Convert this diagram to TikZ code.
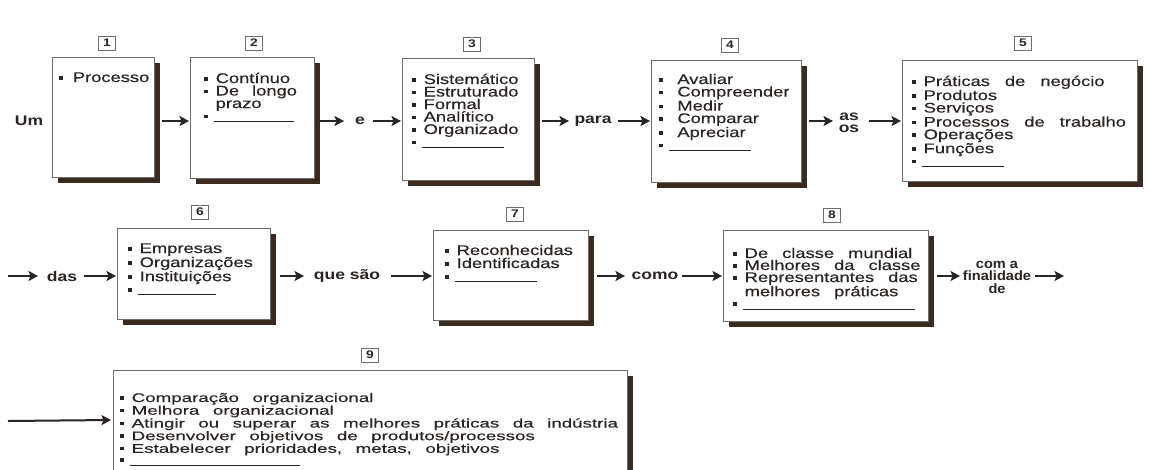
\documentclass[tikz,border=0pt]{standalone}
\usepackage{fontspec}
\setmainfont{Liberation Sans}[FakeStretch=1.31,FakeBold=0.4]
\newfontfamily\wordfont{Liberation Sans}[FakeStretch=1.25]
\newfontfamily\finfont{Liberation Sans}[FakeStretch=1.08]
\newfontfamily\ninefont{Liberation Sans}[FakeStretch=1.5,FakeBold=0.4]
\usetikzlibrary{arrows.meta,shadows,calc}
\definecolor{ink}{HTML}{2A2522}
\definecolor{shad}{HTML}{3A2A20}
\definecolor{edge}{HTML}{6E6E6E}
\newcommand{\bu}[1][8pt]{\raisebox{2.4pt}{\rule{3.5pt}{3.5pt}}\hspace{#1}}
\newcommand{\ind}{\hspace*{11.5pt}}
\newcommand{\blank}[1]{\raisebox{2.4pt}{\rule{3.5pt}{3.5pt}}\hspace{6pt}\rule[-1pt]{#1}{0.7pt}}
\newcommand{\wsp}[1]{\spaceskip=#1 plus 1pt minus 1pt\relax}
\tikzset{
  panel/.style={draw=edge, line width=0.9pt, fill=white, anchor=north west, inner sep=0pt,
     drop shadow={shadow xshift=6pt, shadow yshift=-6pt, fill=shad, opacity=1}},
  txt/.style={anchor=base west, inner sep=0pt, text width=700pt, align=left, text=ink,
     font=\fontsize{14}{12.5}\selectfont},
  word/.style={inner sep=0pt, text=ink, align=center,
     font=\wordfont\fontsize{14}{12}\selectfont\bfseries},
  numbox/.style={draw=edge, line width=0.8pt, minimum width=17pt, minimum height=14pt,
     inner sep=0pt, text=ink, font=\wordfont\fontsize{11}{11}\selectfont\bfseries},
  arr/.style={draw=ink, line width=2pt, -{Stealth[length=9.5pt,width=10pt,inset=2pt]}},
}
\begin{document}
\begin{tikzpicture}[x=1pt,y=-1pt]
\useasboundingbox[fill=white] (0,0) rectangle (1150,469);
\coordinate (r1) at (0,121);
\coordinate (r2) at (0,276);
\coordinate (r3) at (0,420);

% ---------- boxes ----------
\node[panel, minimum width=102pt, minimum height=120pt] (b1) at (52,57) {};
\node[panel, minimum width=124pt, minimum height=121pt] (b2) at (190,57) {};
\node[panel, minimum width=132pt, minimum height=122pt] (b3) at (402,58) {};
\node[panel, minimum width=150pt, minimum height=122pt] (b4) at (651,60) {};
\node[panel, minimum width=235pt, minimum height=121pt] (b5) at (902,60) {};
\node[panel, minimum width=153pt, minimum height=91pt] (b6) at (117,228) {};
\node[panel, minimum width=155pt, minimum height=90pt] (b7) at (433,230) {};
\node[panel, minimum width=205pt, minimum height=91pt] (b8) at (723,230) {};
\node[panel, minimum width=514pt, minimum height=120pt] (b9) at (113,370) {};

% ---------- numbers ----------
\node[numbox] (n1) at (107,43) {1};
\node[numbox] (n2) at (254,43) {2};
\node[numbox] (n3) at (472,44) {3};
\node[numbox] (n4) at (730,45) {4};
\node[numbox] (n5) at (1023,43) {5};
\node[numbox] (n6) at (200,212) {6};
\node[numbox] (n7) at (515,214) {7};
\node[numbox] (n8) at (832,215) {8};
\node[numbox] (n9) at (370,355) {9};

% ---------- box texts ----------
\node[txt] (t1) at ($(b1.north west)+(7,25)$) {\bu[5.5pt] Processo};
\node[txt] (t2) at ($(b2.north west)+(14,26)$) {\wsp{13pt}\bu Contínuo\\ \bu De longo\\ \ind prazo\\ \blank{80pt}};
\node[txt] (t3) at ($(b3.north west)+(10,26)$) {\bu Sistemático\\ \bu Estruturado\\ \bu Formal\\ \bu Analítico\\ \bu Organizado\\ \blank{82pt}};
\node[txt] (t4) at ($(b4.north west)+(8,24)$) {\bu[10pt] Avaliar\\ \bu[10pt] Compreender\\ \bu[10pt] Medir\\ \bu[10pt] Comparar\\ \bu[10pt] Apreciar\\ \blank{82pt}};
\node[txt] (t5) at ($(b5.north west)+(10,26)$) {\wsp{15pt}\bu Práticas de negócio\\ \bu Produtos\\ \bu Serviços\\ \bu Processos de trabalho\\ \bu Operações\\ \bu Funções\\ \blank{82pt}};
\node[txt, font=\fontsize{14}{13}\selectfont] (t6) at ($(b6.north west)+(11,25)$) {\bu Empresas\\ \bu Organizações\\ \bu Instituições\\ \blank{78pt}};
\node[txt, font=\fontsize{14}{13}\selectfont] (t7) at ($(b7.north west)+(12,25)$) {\bu Reconhecidas\\ \bu Identificadas\\ \blank{82pt}};
\node[txt, font=\fontsize{14}{12}\selectfont] (t8) at ($(b8.north west)+(10,28)$) {\wsp{14pt}\bu De classe mundial\\ \bu Melhores da classe\\ \bu Representantes das\\ \ind melhores práticas\\ \blank{172pt}};
\node[txt, font=\ninefont\fontsize{12.5}{11.5}\selectfont] (t9) at ($(b9.north west)+(7,32)$) {\wsp{13.5pt}\bu Comparação organizacional\\ \bu Melhora organizacional\\ \bu Atingir ou superar as melhores práticas da indústria\\ \bu Desenvolver objetivos de produtos/processos\\ \bu Estabelecer prioridades, metas, objetivos\\ \blank{170pt}};

% ---------- words ----------
\node[word] (um) at (29,121) {Um};
\node[word] (e) at (360,121) {e};
\node[word] (para) at (593,121) {para};
\node[word] (asos) at (849,123) {as\\os};
\node[word] (das) at (62,276) {das};
\node[word] (quesao) at (347,276) {que\hspace{5pt}são};
\node[word] (como) at (655,276) {como};
\node[word, font=\finfont\fontsize{13.5}{12.5}\selectfont\bfseries] (fin) at (997,277) {com a\\finalidade\\de};
\coordinate (s8) at (8,276);
\coordinate (e15) at (1064,276);
\coordinate (s16) at (8,421);

% ---------- connectors ----------
\draw[arr] ($(b1.east |- r1)+(7,0)$) -- ($(b2.west |- r1)+(-1,0)$);
\draw[arr] ($(b2.east |- r1)+(4,0)$) -- ($(e.center |- r1)+(-16,0)$);
\draw[arr] ($(e.center |- r1)+(13,0)$) -- ($(b3.west |- r1)+(-1,0)$);
\draw[arr] ($(b3.east |- r1)+(7,0)$) -- ($(para.center |- r1)+(-24,0)$);
\draw[arr] ($(para.center |- r1)+(25,0)$) -- ($(b4.west |- r1)+(-1,0)$);
\draw[arr] ($(b4.east |- r1)+(7,0)$) -- ($(asos.center |- r1)+(-16,0)$);
\draw[arr] ($(asos.center |- r1)+(20,0)$) -- ($(b5.west |- r1)+(-1,0)$);

\draw[arr] (s8) -- ($(das.center |- r2)+(-24,0)$);
\draw[arr] ($(das.center |- r2)+(22,0)$) -- ($(b6.west |- r2)+(-1,0)$);
\draw[arr] ($(b6.east |- r2)+(9,0)$) -- ($(quesao.center |- r2)+(-43,0)$);
\draw[arr] ($(quesao.center |- r2)+(44,0)$) -- ($(b7.west |- r2)+(-1,0)$);
\draw[arr] ($(b7.east |- r2)+(8,0)$) -- ($(como.center |- r2)+(-30,0)$);
\draw[arr] ($(como.center |- r2)+(27,0)$) -- ($(b8.west |- r2)+(-1,0)$);
\draw[arr] ($(b8.east |- r2)+(8,0)$) -- ($(fin.center |- r2)+(-37,0)$);
\draw[arr] ($(fin.center |- r2)+(38,0)$) -- (e15);

\draw[arr] (s16) -- ($(b9.west |- r3)+(-2,0)$);
\end{tikzpicture}
\end{document}
